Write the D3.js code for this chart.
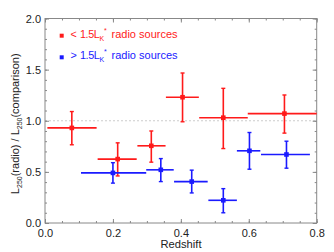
<!DOCTYPE html>
<html><head><meta charset="utf-8">
<script src="https://cdn.jsdelivr.net/npm/d3@7"></script>
<style>body{margin:0;background:#fff}svg{display:block}text{font-family:"Liberation Sans",Arial,sans-serif}</style>
</head><body><svg id="c" width="334" height="252"></svg>
<script>
// Red: < 1.5 L_K* radio sources
const redZ    = [0.079, 0.214, 0.313, 0.405, 0.525, 0.705];
const redZlo  = [0.007, 0.155, 0.272, 0.356, 0.454, 0.597];
const redZhi  = [0.152, 0.270, 0.355, 0.453, 0.597, 0.800];
const redR    = [0.93, 0.625, 0.755, 1.23, 1.03, 1.07];
const redRlo  = [0.765, 0.46, 0.595, 0.99, 0.728, 0.879];
const redRhi  = [1.09, 0.784, 0.90, 1.467, 1.317, 1.252];
// Blue: > 1.5 L_K* radio sources
const blueZ   = [0.200, 0.341, 0.432, 0.525, 0.602, 0.711];
const blueZlo = [0.106, 0.298, 0.380, 0.481, 0.565, 0.636];
const blueZhi = [0.298, 0.379, 0.479, 0.565, 0.634, 0.780];
const blueR   = [0.49, 0.52, 0.405, 0.222, 0.706, 0.67];
const blueRlo = [0.39, 0.405, 0.294, 0.10, 0.526, 0.536];
const blueRhi = [0.59, 0.63, 0.517, 0.336, 0.885, 0.80];
const xTicks = [0.0, 0.2, 0.4, 0.6, 0.8];
const yTicks = [0.0, 0.5, 1.0, 1.5, 2.0];

const svg = d3.select("#c");
const L = 45, R = 316.7, T = 18.5, B = 223;
const x = d3.scaleLinear().domain([0, 0.8]).range([L, R]);
const y = d3.scaleLinear().domain([0, 2]).range([B, T]);
const axisCol = "#888";

// reference line at 1
svg.append("line").attr("x1", L).attr("x2", R).attr("y1", y(1)).attr("y2", y(1))
  .attr("stroke", "#ccc").attr("stroke-width", 1).attr("stroke-dasharray", "2,2");

function styleAxis(g, noLabels) {
  g.select(".domain").remove();
  g.selectAll(".tick line").attr("stroke", axisCol);
  g.selectAll(".tick text").attr("fill", "#222").attr("font-size", 11);
  if (noLabels) g.selectAll(".tick text").remove();
}
const xMinor = d3.range(0, 0.8001, 0.05);
const yMinor = d3.range(0, 2.0001, 0.1);
// bottom
svg.append("g").attr("transform", `translate(0,${B})`)
  .call(d3.axisBottom(x).tickValues(xTicks).tickFormat(d3.format(".1f")).tickSizeInner(-4).tickPadding(6))
  .call(g => styleAxis(g));
svg.append("g").attr("transform", `translate(0,${B})`)
  .call(d3.axisBottom(x).tickValues(xMinor).tickSizeInner(-2))
  .call(g => styleAxis(g, true));
// top
svg.append("g").attr("transform", `translate(0,${T})`)
  .call(d3.axisTop(x).tickValues(xTicks).tickSizeInner(-4)).call(g => styleAxis(g, true));
svg.append("g").attr("transform", `translate(0,${T})`)
  .call(d3.axisTop(x).tickValues(xMinor).tickSizeInner(-2)).call(g => styleAxis(g, true));
// left
svg.append("g").attr("transform", `translate(${L},0)`)
  .call(d3.axisLeft(y).tickValues(yTicks).tickFormat(d3.format(".1f")).tickSizeInner(-4).tickPadding(4))
  .call(g => styleAxis(g));
svg.append("g").attr("transform", `translate(${L},0)`)
  .call(d3.axisLeft(y).tickValues(yMinor).tickSizeInner(-2)).call(g => styleAxis(g, true));
// right
svg.append("g").attr("transform", `translate(${R},0)`)
  .call(d3.axisRight(y).tickValues(yTicks).tickSizeInner(-4)).call(g => styleAxis(g, true));
svg.append("g").attr("transform", `translate(${R},0)`)
  .call(d3.axisRight(y).tickValues(yMinor).tickSizeInner(-2)).call(g => styleAxis(g, true));
svg.append("rect").attr("x", L).attr("y", T).attr("width", R - L).attr("height", B - T)
  .attr("fill", "none").attr("stroke", axisCol).attr("stroke-width", 1);

function series(Z, Zlo, Zhi, Rv, Rlo, Rhi, col) {
  const g = svg.append("g").attr("stroke", col).attr("fill", col);
  const d = Z.map((z, i) => ({z, zl: Zlo[i], zh: Zhi[i], r: Rv[i], rl: Rlo[i], rh: Rhi[i]}));
  g.selectAll(".xe").data(d).join("line")
    .attr("x1", e => x(e.zl)).attr("x2", e => x(e.zh)).attr("y1", e => y(e.r)).attr("y2", e => y(e.r))
    .attr("stroke-width", 1.6);
  g.selectAll(".ye").data(d).join("line")
    .attr("x1", e => x(e.z)).attr("x2", e => x(e.z)).attr("y1", e => y(e.rl)).attr("y2", e => y(e.rh))
    .attr("stroke-width", 1.6);
  ["rl", "rh"].forEach(k => {
    g.selectAll(".cap" + k).data(d).join("line")
      .attr("x1", e => x(e.z) - 2).attr("x2", e => x(e.z) + 2).attr("y1", e => y(e[k])).attr("y2", e => y(e[k]))
      .attr("stroke-width", 1.4);
  });
  g.selectAll(".pt").data(d).join("rect")
    .attr("x", e => x(e.z) - 2.3).attr("y", e => y(e.r) - 2.3).attr("width", 4.6).attr("height", 4.6)
    .attr("stroke", "none");
}
const RED = "#ff1a1a", BLUE = "#1a1aff";
series(redZ, redZlo, redZhi, redR, redRlo, redRhi, RED);
series(blueZ, blueZlo, blueZhi, blueR, blueRlo, blueRhi, BLUE);

// legend
function legend(yy, col, sym) {
  svg.append("rect").attr("x", 59.7).attr("y", yy - 2).attr("width", 4).attr("height", 4).attr("fill", col);
  const g = svg.append("g").attr("fill", col).attr("font-size", 10.8);
  g.append("text").attr("x", 70.5).attr("y", yy + 2).text(sym);
  const t = g.append("text").attr("x", 80).attr("y", yy + 2).attr("letter-spacing", -0.4);
  t.append("tspan").text("1.5L");
  t.append("tspan").attr("dy", 3).attr("font-size", 7).attr("letter-spacing", 0).text("K");
  t.append("tspan").attr("dy", -8).attr("font-size", 7).attr("letter-spacing", 0).text("*");
  g.append("text").attr("x", 111.5).attr("y", yy + 2).attr("font-size", 11).text("radio sources");
}
legend(35.7, RED, "<");
legend(57.3, BLUE, ">");

// axis labels
svg.append("text").attr("x", 181).attr("y", 248).attr("text-anchor", "middle")
  .attr("font-size", 11.2).attr("fill", "#222").text("Redshift");
const yl = svg.append("text").attr("transform", `translate(19,${(T + B) / 2 + 3}) rotate(-90)`)
  .attr("text-anchor", "middle").attr("font-size", 11).attr("fill", "#222");
yl.append("tspan").text("L");
yl.append("tspan").attr("dy", 2.5).attr("font-size", 7).text("250");
yl.append("tspan").attr("dy", -2.5).text("(radio) / L");
yl.append("tspan").attr("dy", 2.5).attr("font-size", 7).text("250");
yl.append("tspan").attr("dy", -2.5).text("(comparison)");
</script></body></html>
